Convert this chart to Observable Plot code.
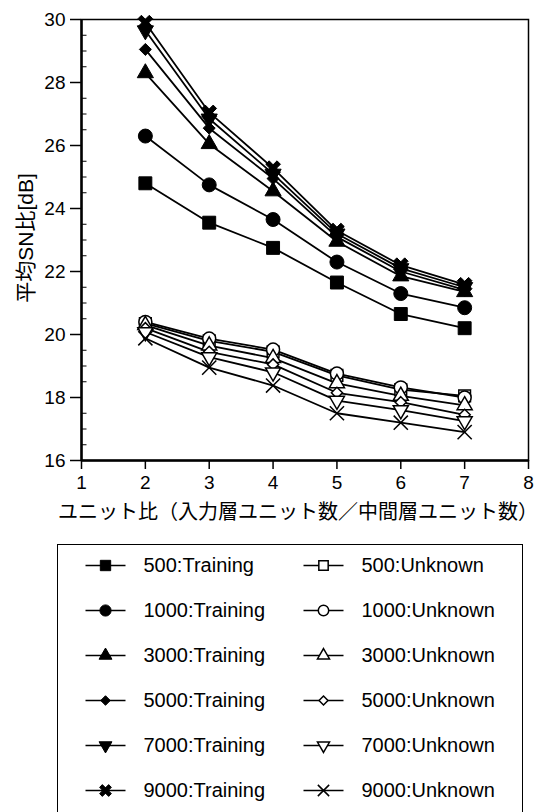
<!DOCTYPE html>
<html><head><meta charset="utf-8">
<script src="https://cdn.jsdelivr.net/npm/d3@7"></script>
<script src="https://cdn.jsdelivr.net/npm/@observablehq/plot@0.6"></script>
<style>
body{margin:0;background:#fff;width:542px;height:812px;overflow:hidden;position:relative;}
#chart{position:absolute;left:0;top:0;}
#legendbox{position:absolute;left:57px;top:544px;width:466px;height:300px;border:1.5px solid #000;border-bottom:none;box-sizing:border-box;}
#legend{position:absolute;left:0;top:544px;}
</style></head><body>
<div id="chart"></div><div id="legendbox"></div><div id="legend"></div>
<script>
// ---- data ----
const unitRatio = [2, 3, 4, 5, 6, 7];
const sampleCounts = ["500", "1000", "3000", "5000", "7000", "9000"];
const setTypes = ["Training", "Unknown"];
const training500  = [24.8, 23.55, 22.75, 21.65, 20.65, 20.2];
const training1000 = [26.3, 24.75, 23.65, 22.3, 21.3, 20.85];
const training3000 = [28.3, 26.05, 24.55, 22.95, 21.85, 21.35];
const training5000 = [29.05, 26.55, 24.95, 23.1, 22.0, 21.42];
const training7000 = [29.65, 26.85, 25.1, 23.2, 22.1, 21.5];
const training9000 = [29.9, 27.05, 25.28, 23.3, 22.2, 21.58];
const unknown500  = [20.35, 19.8, 19.45, 18.7, 18.25, 18.05];
const unknown1000 = [20.4, 19.87, 19.52, 18.76, 18.32, 18.0];
const unknown3000 = [20.3, 19.65, 19.25, 18.45, 18.05, 17.75];
const unknown5000 = [20.2, 19.45, 19.05, 18.15, 17.85, 17.45];
const unknown7000 = [20.08, 19.28, 18.8, 17.9, 17.6, 17.25];
const unknown9000 = [19.88, 18.95, 18.38, 17.5, 17.2, 16.9];
const xTicks = [1, 2, 3, 4, 5, 6, 7, 8];
const yTicks = [16, 18, 20, 22, 24, 26, 28, 30];
const yMinorTicks = [16.5, 17, 17.5, 18.5, 19, 19.5, 20.5, 21, 21.5, 22.5, 23, 23.5, 24.5, 25, 25.5, 26.5, 27, 27.5, 28.5, 29, 29.5];
const xTitle = "ユニット比（入力層ユニット数／中間層ユニット数）";
const yTitle = "平均SN比[dB]";

const seriesValues = {
  Training: [training500, training1000, training3000, training5000, training7000, training9000],
  Unknown: [unknown500, unknown1000, unknown3000, unknown5000, unknown7000, unknown9000]
};

// ---- custom symbols ----
const s3 = Math.sqrt(3);
const downTriangle = {draw(ctx, size) {
  const y = -Math.sqrt(size / (s3 * 3));
  ctx.moveTo(0, -2 * y); ctx.lineTo(-s3 * y, y); ctx.lineTo(s3 * y, y); ctx.closePath();
}};
const boldX = {draw(ctx, size) {
  const r = Math.sqrt(size / Math.PI), t = r * 0.3, c = Math.SQRT1_2;
  for (const [ux, uy] of [[c, c], [c, -c]]) {
    const px = -uy, py = ux;
    ctx.moveTo(ux * r + px * t, uy * r + py * t);
    ctx.lineTo(ux * r - px * t, uy * r - py * t);
    ctx.lineTo(-ux * r - px * t, -uy * r - py * t);
    ctx.lineTo(-ux * r + px * t, -uy * r + py * t);
    ctx.closePath();
  }
}};
const tickRight = {draw(ctx) { ctx.moveTo(0, 0); ctx.lineTo(5, 0); }};
const hline = {draw(ctx) { ctx.moveTo(-20, 0); ctx.lineTo(20, 0); }};

const symbolStyle = {
  Training: [
    {symbol: d3.symbolSquare, r: 7.3}, {symbol: d3.symbolCircle, r: 7}, {symbol: d3.symbolTriangle, r: 6},
    {symbol: d3.symbolDiamond2, r: 5.4}, {symbol: downTriangle, r: 6}, {symbol: boldX, r: 8}
  ],
  Unknown: [
    {symbol: d3.symbolSquare, r: 6.6}, {symbol: d3.symbolCircle, r: 6.5}, {symbol: d3.symbolTriangle, r: 5.6},
    {symbol: d3.symbolDiamond2, r: 5}, {symbol: downTriangle, r: 5.6}, {symbol: d3.symbolTimes, r: 6.5}
  ]
};

const rows = [];
for (const type of setTypes) {
  sampleCounts.forEach((n, i) => {
    seriesValues[type][i].forEach((v, j) => rows.push({x: unitRatio[j], y: v, n, type, key: `${n}:${type}`}));
  });
}
const legendRows = [];
for (const n of sampleCounts) for (const type of setTypes) legendRows.push({n, type, key: `${n}:${type}`});

const FONT = '"Liberation Sans", Arial, "Noto Sans CJK JP", sans-serif';

function styleFor(type, i) {
  const st = symbolStyle[type][i];
  return type === "Training"
    ? {symbol: st.symbol, r: st.r, fill: "black", stroke: "black", strokeWidth: 1}
    : {symbol: st.symbol, r: st.r, fill: "white", stroke: "black", strokeWidth: 1.5};
}

const dotMarks = [];
for (const type of setTypes) {
  sampleCounts.forEach((n, i) => {
    dotMarks.push(Plot.dot(rows.filter(d => d.n === n && d.type === type), {x: "x", y: "y", ...styleFor(type, i)}));
  });
}

const chart = Plot.plot({
  width: 542, height: 530,
  marginTop: 19, marginLeft: 81, marginRight: 14, marginBottom: 70,
  style: {fontFamily: FONT, fontSize: "19px", color: "#000", background: "#fff"},
  x: {domain: [1, 8]},
  y: {domain: [16, 30]},
  marks: [
    Plot.axisX({ticks: xTicks, tickSize: 9, tickPadding: 6, tickFormat: d => d, label: null, fontSize: 19, strokeWidth: 1.5}),
    Plot.axisY({ticks: yTicks, tickSize: 11, tickPadding: 5, tickFormat: d => d, label: null, fontSize: 19, strokeWidth: 1.5}),
    Plot.dot(yMinorTicks, {x: () => 1, y: d => d, symbol: tickRight, fill: "none", stroke: "black", strokeWidth: 1}),
    Plot.frame({strokeWidth: 1.5}),
    Plot.ruleX([1], {strokeWidth: 2.5}),
    Plot.ruleY([16], {strokeWidth: 2.5}),
    Plot.line(rows, {x: "x", y: "y", z: "key", stroke: "black", strokeWidth: 1.8}),
    ...dotMarks,
    Plot.text([xTitle], {text: d => d, frameAnchor: "bottom", dy: 52, dx: -7, fontSize: 20, lineAnchor: "middle"}),
    Plot.text([yTitle], {text: d => d, frameAnchor: "left", dx: -55, dy: -2, rotate: -90, fontSize: 21, textAnchor: "middle", lineAnchor: "middle"})
  ]
});
document.getElementById("chart").append(chart);

const legendDots = [];
setTypes.forEach(type => {
  sampleCounts.forEach((n, i) => {
    const st = styleFor(type, i);
    legendDots.push(Plot.dot(legendRows.filter(d => d.n === n && d.type === type), {x: "type", y: "n", ...st, r: st.r * 0.8}));
  });
});

const legend = Plot.plot({
  width: 542, height: 268, margin: 0,
  style: {fontFamily: FONT, fontSize: "20px", color: "#000", background: "transparent"},
  x: {type: "point", domain: setTypes, range: [105, 323], padding: 0, axis: null},
  y: {type: "point", domain: sampleCounts, range: [21, 246], padding: 0, axis: null},
  marks: [
    Plot.dot(legendRows, {x: "type", y: "n", symbol: hline, fill: "none", stroke: "black", strokeWidth: 1.6}),
    ...legendDots,
    Plot.text(legendRows, {x: "type", y: "n", text: "key", dx: 38, textAnchor: "start", fontSize: 20})
  ]
});
document.getElementById("legend").append(legend);
</script>
</body></html>
